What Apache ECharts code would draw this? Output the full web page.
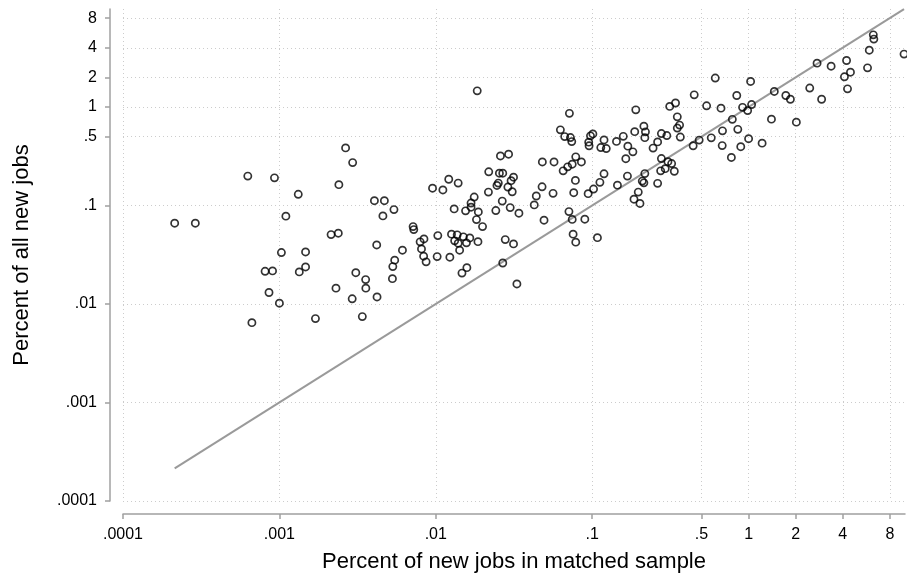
<!DOCTYPE html>
<html>
<head>
<meta charset="utf-8">
<script src="https://cdn.jsdelivr.net/npm/echarts@6/dist/echarts.min.js"></script>
<style>
html,body{margin:0;padding:0;background:#fff;}
#chart{width:907px;height:578px;}
</style>
</head>
<body>
<div id="chart"></div>
<script>
// Percent of new jobs in matched sample (x)
const matchedShare = [
0.000628,0.00093,0.0024,0.00132,0.00265,0.00294,0.000214,0.00029,0.0011,0.00214,
0.00238,0.00103,0.00147,0.00081,0.000904,0.00134,0.00147,0.000858,0.0023,0.001,
0.00292,0.000667,0.0017,0.0259,0.0292,0.0218,0.0255,0.0268,0.0314,0.0303,
0.0251,0.0246,0.0121,0.0139,0.00953,0.0111,0.0289,0.0308,0.0217,0.0439,
0.0176,0.00405,0.00469,0.0054,0.00459,0.0168,0.0168,0.0131,0.0155,0.0187,
0.0266,0.0242,0.0299,0.034,0.0426,0.0182,0.0199,0.00716,0.00723,0.0103,
0.0126,0.0137,0.015,0.0165,0.0132,0.0139,0.0157,0.0186,0.0278,0.0314,
0.0084,0.00794,0.0081,0.0142,0.00419,0.00612,0.00836,0.00867,0.0102,0.0123,
0.00546,0.00531,0.0268,0.0158,0.0147,0.00308,0.00356,0.00357,0.00528,0.00421,
0.033,0.00339,0.0184,0.612,0.449,0.539,0.666,0.313,0.341,0.19,
0.0715,0.35,0.362,0.35,0.366,0.214,0.219,0.217,0.187,0.277,
0.3,0.262,0.245,0.0626,0.0667,0.0726,0.074,0.0975,0.101,0.095,
0.0955,0.119,0.1135,0.123,0.143,0.158,0.169,0.182,0.164,0.681,
0.577,0.483,0.442,0.678,0.277,0.305,0.322,0.274,0.293,0.335,
0.048,0.057,0.0785,0.0853,0.0745,0.0697,0.0652,0.0781,0.119,0.112,
0.102,0.0942,0.145,0.168,0.217,0.209,0.214,0.262,0.197,0.185,
0.202,0.0478,0.0562,0.0762,0.071,0.0745,0.0897,0.0492,0.0755,0.0785,
0.108,6.27,6.32,5.91,9.86,4.23,3.37,2.74,4.48,4.1,
5.76,4.29,2.46,2.93,1.03,1.46,0.84,1.73,1.85,0.915,
1.045,0.986,0.787,1.4,2.02,0.853,0.891,1.0,1.22,0.776
];
// Percent of all new jobs (y)
const allShare = [
0.199,0.191,0.163,0.130,0.385,0.273,0.0662,0.0662,0.078,0.0507,
0.0524,0.0333,0.0338,0.0215,0.0217,0.0212,0.0238,0.0131,0.0145,0.0102,
0.0113,0.00647,0.00711,0.319,0.332,0.220,0.213,0.213,0.194,0.179,
0.169,0.160,0.185,0.169,0.150,0.144,0.154,0.138,0.137,0.125,
0.122,0.112,0.112,0.091,0.0785,0.106,0.0962,0.0925,0.0883,0.0861,
0.111,0.0889,0.0953,0.0836,0.1015,0.072,0.0611,0.0611,0.057,0.0495,
0.0512,0.0504,0.0481,0.0469,0.0438,0.0415,0.0418,0.043,0.0451,0.0408,
0.0458,0.0428,0.0363,0.0352,0.0398,0.0352,0.0306,0.0268,0.0303,0.0299,
0.0279,0.024,0.0261,0.0234,0.0206,0.0208,0.0177,0.0145,0.0181,0.0118,
0.016,0.00745,1.46,1.97,1.33,1.03,0.975,1.016,1.10,0.937,
0.863,0.795,0.656,0.612,0.496,0.64,0.56,0.489,0.563,0.538,
0.514,0.443,0.383,0.587,0.501,0.49,0.446,0.51,0.534,0.44,
0.404,0.464,0.388,0.379,0.448,0.504,0.401,0.351,0.299,0.573,
0.487,0.462,0.404,0.406,0.30,0.279,0.267,0.225,0.237,0.223,
0.277,0.277,0.312,0.277,0.263,0.247,0.225,0.18,0.21,0.172,
0.147,0.132,0.161,0.199,0.211,0.177,0.17,0.168,0.137,0.116,
0.105,0.155,0.133,0.135,0.0868,0.0723,0.0727,0.071,0.0512,0.0425,
0.0472,5.41,4.9,3.78,3.45,2.97,2.6,2.79,2.26,2.03,
2.5,1.53,1.56,1.2,1.82,1.44,1.31,1.31,1.2,0.993,
1.06,0.921,0.75,0.754,0.703,0.594,0.396,0.477,0.43,0.308
];
const xTicks = [0.0001, 0.001, 0.01, 0.1, 0.5, 1, 2, 4, 8];
const yTicks = [0.0001, 0.001, 0.01, 0.1, 0.5, 1, 2, 4, 8];
const xTitle = 'Percent of new jobs in matched sample';
const yTitle = 'Percent of all new jobs';

const points = matchedShare.map((x, i) => [x, allShare[i]]);
const xMin = Math.min(...matchedShare), xMax = Math.max(...matchedShare);
const diagonal = [[xMin, xMin], [xMax, xMax]];

const fmt = v => String(+Number(v).toPrecision(6)).replace(/^0\./, '.');
const FONT = '"Liberation Sans", Arial, Helvetica, sans-serif';
const axisGray = '#a0a0a0';
const gridStyle = { color: '#cccccc', width: 1, type: [1, 3] };

const chart = echarts.init(document.getElementById('chart'), null, { renderer: 'canvas' });
chart.setOption({
  animation: false,
  backgroundColor: '#fff',
  textStyle: { fontFamily: FONT },
  grid: { left: 123, right: 2, top: 9, bottom: 77, containLabel: false },
  xAxis: {
    type: 'log', logBase: 10, min: 0.0001, max: 10,
    offset: 13,
    name: xTitle, nameLocation: 'middle', nameGap: 37,
    nameTextStyle: { fontSize: 22, color: '#000', fontFamily: FONT },
    axisLine: { show: true, onZero: false, lineStyle: { color: axisGray, width: 1.5 } },
    axisTick: { show: true, length: 5, customValues: xTicks, lineStyle: { color: axisGray, width: 1.5 } },
    axisLabel: { customValues: xTicks, formatter: fmt, fontSize: 16, color: '#000', margin: 13, fontFamily: FONT },
    splitLine: { show: true, lineStyle: gridStyle },
    minorTick: { show: false }
  },
  yAxis: {
    type: 'log', logBase: 10, min: 0.0001, max: 9.9,
    offset: 13,
    name: yTitle, nameLocation: 'middle', nameGap: 77,
    nameTextStyle: { fontSize: 22, color: '#000', fontFamily: FONT },
    axisLine: { show: true, onZero: false, lineStyle: { color: axisGray, width: 1.5 } },
    axisTick: { show: true, length: 5, customValues: yTicks, lineStyle: { color: axisGray, width: 1.5 } },
    axisLabel: { customValues: yTicks, formatter: fmt, fontSize: 16, color: '#000', margin: 13, fontFamily: FONT },
    splitLine: { show: true, lineStyle: gridStyle }
  },
  series: [
    {
      type: 'line', data: diagonal, symbol: 'none', silent: true, z: 2,
      lineStyle: { color: '#9a9a9a', width: 2 }
    },
    {
      type: 'scatter', data: points, symbol: 'circle', symbolSize: 7.2, z: 3,
      itemStyle: { color: 'rgba(255,255,255,0)', borderColor: '#000', borderWidth: 1.7 }
    }
  ]
});
</script>
</body>
</html>
